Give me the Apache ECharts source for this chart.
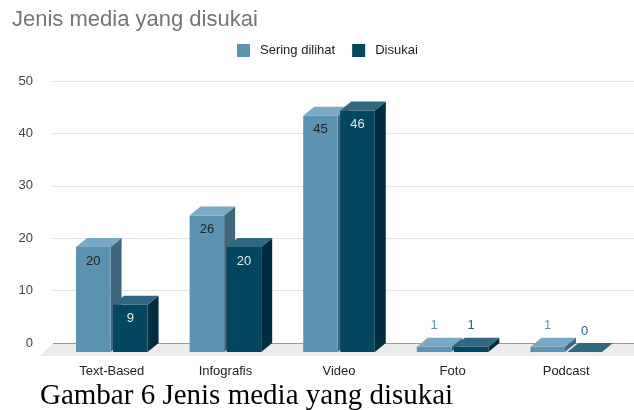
<!DOCTYPE html>
<html>
<head>
<meta charset="utf-8">
<style>
html,body{margin:0;padding:0;background:#fff;}
#chart{width:634px;height:410px;}
</style>
<script src="https://cdn.jsdelivr.net/npm/echarts@6/dist/echarts.min.js"></script>
</head>
<body>
<div id="chart"></div>
<script>
const titleText = 'Jenis media yang disukai';
const captionText = 'Gambar 6 Jenis media yang disukai';
const categories = ['Text-Based', 'Infografis', 'Video', 'Foto', 'Podcast'];
const seriesNames = ['Sering dilihat', 'Disukai'];
const seringDilihat = [20, 26, 45, 1, 1];
const disukai = [9, 20, 46, 1, 0];
const yMin = 0, yMax = 50, yInterval = 10;

const FONT = '"Liberation Sans", Arial, sans-serif';
const DX = 11, DY = 9;
const palettes = [
  { front: '#5b93b1', top: '#7aa9c3', side: '#3f667c', inLabel: '#222222', outLabel: '#5b93b1' },
  { front: '#03465f', top: '#2f6880', side: '#022d3e', inLabel: '#e8e8e8', outLabel: '#2a5f7a' }
];

function barRenderer(idx) {
  const pal = palettes[idx];
  return function (params, api) {
    const xi = api.value(0), v = api.value(1);
    const top = api.coord([xi, v]);
    const base = api.coord([xi, 0]);
    const band = api.size([1, 0])[0];
    const w = band * 0.304;
    const gap = band * 0.022;
    const x0 = idx === 0 ? top[0] - gap / 2 - w : top[0] + gap / 2;
    const yT = top[1], yB = base[1];
    const children = [
      { type: 'polygon', shape: { points: [[x0 + w, yT], [x0 + w, yB], [x0 + w + DX, yB - DY], [x0 + w + DX, yT - DY]] }, style: { fill: pal.side } },
      { type: 'rect', shape: { x: x0, y: yT, width: w, height: yB - yT }, style: { fill: pal.front } },
      { type: 'polygon', shape: { points: [[x0, yT], [x0 + w, yT], [x0 + w + DX, yT - DY], [x0 + DX, yT - DY]] }, style: { fill: pal.top } }
    ];
    const inside = (yB - yT) > 28;
    children.push({
      type: 'text',
      style: {
        text: String(v),
        x: x0 + w / 2,
        y: inside ? yT + 14 : yT - DY - 12,
        fill: inside ? pal.inLabel : pal.outLabel,
        font: '13px ' + FONT,
        align: 'center',
        verticalAlign: 'middle'
      }
    });
    return { type: 'group', children: children };
  };
}

function floorRenderer(params, api) {
  const cs = params.coordSys;
  const y0 = api.coord([0, 0])[1];
  const xl = cs.x, xr = cs.x + cs.width + 30;
  return {
    type: 'group',
    children: [
      { type: 'polygon', shape: { points: [[xl, y0], [xr, y0], [xr - 13, y0 + 13], [xl - 13, y0 + 13]] }, style: { fill: '#ececec' } },
      { type: 'line', shape: { x1: xl, y1: y0 + 0.5, x2: xr, y2: y0 + 0.5 }, style: { stroke: '#9a9a9a', lineWidth: 1 } }
    ]
  };
}

const chart = echarts.init(document.getElementById('chart'));
chart.setOption({
  animation: false,
  backgroundColor: '#ffffff',
  title: [
    { text: titleText, left: 7, top: 4, textStyle: { fontFamily: FONT, fontSize: 22, fontWeight: 'normal', color: '#757575' } },
    { text: captionText, left: 35, top: 377, textStyle: { fontFamily: '"Liberation Serif", "Times New Roman", serif', fontSize: 29, fontWeight: 'normal', color: '#000000' } }
  ],
  legend: {
    data: seriesNames,
    left: 232, top: 39,
    itemWidth: 13, itemHeight: 13, itemGap: 17,
    icon: 'rect',
    textStyle: { fontFamily: FONT, fontSize: 13, color: '#222222', padding: [0, 0, 0, 5] }
  },
  grid: [
    { left: 53, right: 0, top: 81, bottom: 67 },
    { left: 55, right: 11, top: 89.5, bottom: 58 }
  ],
  xAxis: [
    { gridIndex: 0, type: 'category', data: categories, show: true, axisLine: { show: false }, axisTick: { show: false }, axisLabel: { show: false }, splitLine: { show: false } },
    { gridIndex: 1, type: 'category', data: categories, axisLine: { show: false }, axisTick: { show: false },
      axisLabel: { margin: 13, fontFamily: FONT, fontSize: 13, color: '#222222' }, splitLine: { show: false } }
  ],
  yAxis: [
    { gridIndex: 0, type: 'value', min: yMin, max: yMax, interval: yInterval,
      axisLine: { show: false }, axisTick: { show: false },
      axisLabel: { margin: 20, fontFamily: FONT, fontSize: 13, color: '#444444' },
      splitLine: { lineStyle: { color: '#e3e3e3', width: 1 } } },
    { gridIndex: 1, type: 'value', min: yMin, max: yMax, interval: yInterval, show: false, splitLine: { show: false } }
  ],
  series: [
    { name: 'floor', type: 'custom', xAxisIndex: 0, yAxisIndex: 0, z: 1, silent: true,
      data: [[0, 0]], renderItem: floorRenderer },
    { name: seriesNames[0], type: 'custom', xAxisIndex: 1, yAxisIndex: 1, z: 2,
      itemStyle: { color: palettes[0].front },
      data: categories.map((c, i) => [i, seringDilihat[i]]), renderItem: barRenderer(0) },
    { name: seriesNames[1], type: 'custom', xAxisIndex: 1, yAxisIndex: 1, z: 3,
      itemStyle: { color: palettes[1].front },
      data: categories.map((c, i) => [i, disukai[i]]), renderItem: barRenderer(1) }
  ]
});
</script>
</body>
</html>
